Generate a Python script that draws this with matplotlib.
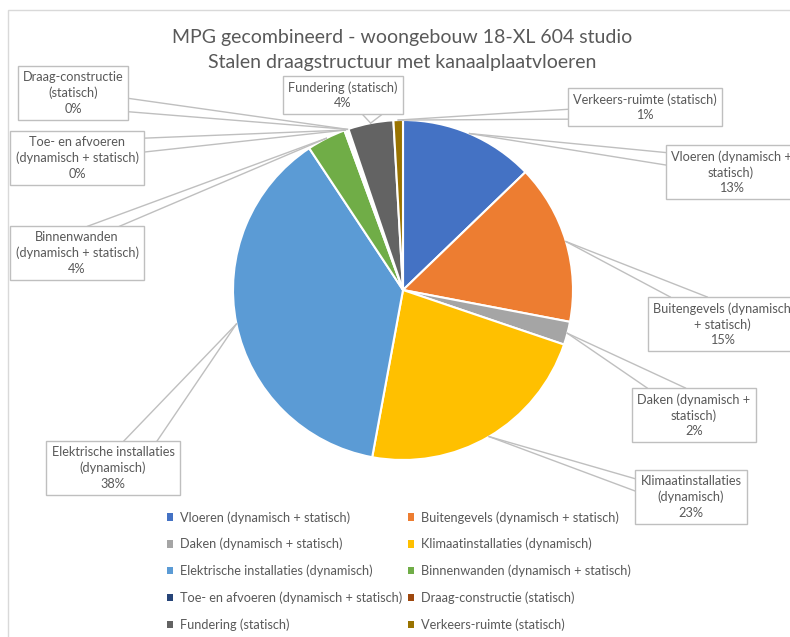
import numpy as np
import matplotlib.pyplot as plt

# Gegevens (aandeel per onderdeel, in %)
categories = [
    "Vloeren (dynamisch + statisch)",
    "Buitengevels (dynamisch + statisch)",
    "Daken (dynamisch + statisch)",
    "Klimaatinstallaties (dynamisch)",
    "Elektrische installaties (dynamisch)",
    "Binnenwanden (dynamisch + statisch)",
    "Toe- en afvoeren (dynamisch + statisch)",
    "Draag-constructie (statisch)",
    "Fundering (statisch)",
    "Verkeers-ruimte (statisch)",
]
shares = [12.8, 15.2, 2.2, 22.7, 37.8, 3.7, 0.2, 0.2, 4.3, 0.9]
colors = ["#4472C4", "#ED7D31", "#A5A5A5", "#FFC000", "#5B9BD5",
          "#70AD47", "#264478", "#9E480E", "#636363", "#997300"]

# tekst in de labelvakken (regelafbreking zoals in Excel)
box_names = [
    "Vloeren (dynamisch +\nstatisch)",
    "Buitengevels (dynamisch\n+ statisch)",
    "Daken (dynamisch +\nstatisch)",
    "Klimaatinstallaties\n(dynamisch)",
    "Elektrische installaties\n(dynamisch)",
    "Binnenwanden\n(dynamisch + statisch)",
    "Toe- en afvoeren\n(dynamisch + statisch)",
    "Draag-constructie\n(statisch)",
    "Fundering (statisch)",
    "Verkeers-ruimte (statisch)",
]

title = "MPG gecombineerd - woongebouw 18-XL 604 studio\nStalen draagstructuur met kanaalplaatvloeren"

W, H = 790, 637
FONT = "Lato"
GREY_TXT = "#595959"
GREY_LN = "#BFBFBF"

# layout labelvakken: middelpunt (px, van boven), zijde van de aanwijzer, fracties langs de rand
box_layout = [
    (731, 172, "l", 0.14, 0.37),
    (722, 324, "t", 0.15, 0.40),
    (694, 415, "t", 0.12, 0.43),
    (691, 497, "l", 0.16, 0.39),
    (113, 468, "t", 0.58, 0.83),
    (77, 253, "t", 0.58, 0.82),
    (77, 158, "r", 0.13, 0.39),
    (73, 93, "r", 0.60, 0.85),
    (343, 95, "b", 0.66, 0.83),
    (645, 107, "l", 0.56, 0.82),
]


def py(y):
    return H - y


fig = plt.figure(figsize=(W / 100, H / 100), dpi=100)
ax = fig.add_axes([0, 0, 1, 1])

# rand van het grafiekgebied
ax.add_patch(plt.Rectangle((8, -20), W + 20, py(10) + 20, fill=False,
                           edgecolor="#D9D9D9", linewidth=1.0))

cx, cy, r = 403, py(290), 170
wedges, _ = ax.pie(shares, colors=colors, startangle=90, counterclock=False,
                   center=(cx, cy), radius=r, frame=True,
                   wedgeprops=dict(edgecolor="white", linewidth=1.5))
ax.set_xlim(0, W)
ax.set_ylim(0, H)
ax.axis("off")

fig.text(0.5 + 7 / W, 1 - 50 / H, title, ha="center", va="center", fontsize=14,
         color=GREY_TXT, family=FONT, linespacing=1.55)

total = sum(shares)
texts = []
for name, v, (bx, by, side, f0, f1) in zip(box_names, shares, box_layout):
    t = ax.text(bx, py(by), f"{name}\n{v / total * 100:.0f}%", ha="center", va="center",
                fontsize=9.2, color=GREY_TXT, family=FONT, linespacing=1.33, zorder=5,
                bbox=dict(boxstyle="square,pad=0.4", facecolor="white",
                          edgecolor=GREY_LN, linewidth=1.0))
    texts.append(t)

fig.canvas.draw()
renderer = fig.canvas.get_renderer()
inv = ax.transData.inverted()

for w, t, (bx, by, side, f0, f1) in zip(wedges, texts, box_layout):
    mid = np.deg2rad((w.theta1 + w.theta2) / 2)
    tip = (cx + r * np.cos(mid), cy + r * np.sin(mid))
    ext = t.get_bbox_patch().get_window_extent(renderer)
    (x0, y0), (x1, y1) = inv.transform([(ext.x0, ext.y0), (ext.x1, ext.y1)])
    if side == "l":
        base = [(x0, y1 - f0 * (y1 - y0)), (x0, y1 - f1 * (y1 - y0))]
    elif side == "r":
        base = [(x1, y1 - f0 * (y1 - y0)), (x1, y1 - f1 * (y1 - y0))]
    elif side == "t":
        base = [(x0 + f0 * (x1 - x0), y1), (x0 + f1 * (x1 - x0), y1)]
    else:
        base = [(x0 + f0 * (x1 - x0), y0), (x0 + f1 * (x1 - x0), y0)]
    for bxy in base:
        ax.plot([bxy[0], tip[0]], [bxy[1], tip[1]], color=GREY_LN, linewidth=1.0, zorder=4)

# legenda, rij voor rij zoals in Excel
order = [0, 2, 4, 6, 8, 1, 3, 5, 7, 9]
leg = ax.legend([wedges[i] for i in order], [categories[i] for i in order],
                ncol=2, loc="upper left", bbox_to_anchor=(167 / W, 1 - 511 / H),
                frameon=False, prop=dict(family=FONT, size=9.2),
                handlelength=0.5, handleheight=0.5, handletextpad=0.5,
                columnspacing=0.45, labelspacing=1.12, borderpad=0, borderaxespad=0)
for txt in leg.get_texts():
    txt.set_color(GREY_TXT)
for h in leg.legend_handles:
    h.set_edgecolor("none")

fig.savefig("out.png", dpi=100)
